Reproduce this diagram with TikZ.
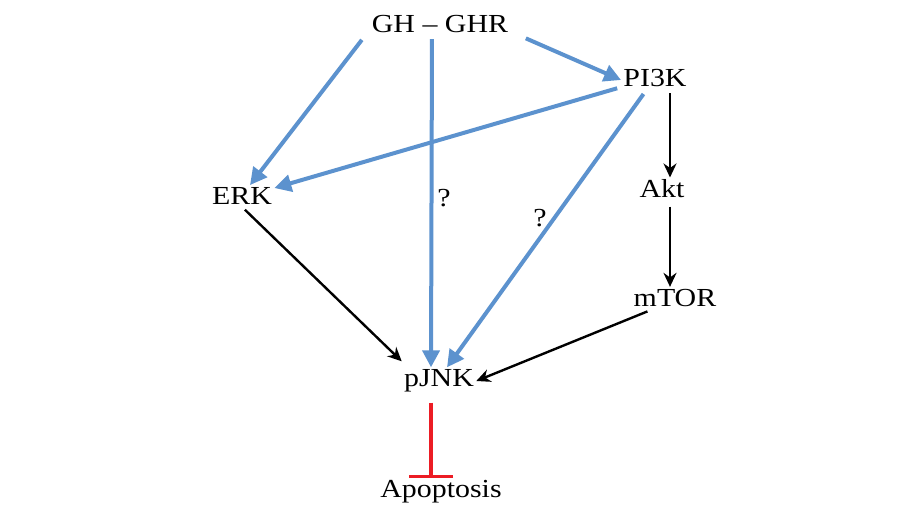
\documentclass[tikz,border=0pt]{standalone}
\usepackage{fontspec}
\setmainfont{Liberation Serif}[FakeStretch=1.15]
\usetikzlibrary{arrows.meta}
\definecolor{pathblue}{RGB}{92,146,206}
\definecolor{inhred}{RGB}{236,28,36}

\begin{document}
\begin{tikzpicture}[x=0.5pt, y=-0.5pt, font=\fontsize{13}{15}\selectfont,
  lbl/.style={inner sep=1pt},
  blueline/.style={pathblue, line width=2pt, -{Triangle[length=8.5pt, width=8.5pt]}},
  blackline/.style={black, line width=1.2pt, -{Stealth[length=7pt, width=6.5pt]}},
  inhibit/.style={inhred, line width=1.6pt, -{Bar[width=22pt, line width=1.6pt]}}]

  \useasboundingbox (0,0) rectangle (910,505);

  % nodes
  \node[lbl] (ghr) at (440,24) {GH -- GHR};
  \node[lbl] (pik) at (655,78) {PI3K};
  \node[lbl] (erk) at (242,196) {ERK};
  \node[lbl] (akt) at (662,189) {Akt};
  \node[lbl] (mtor) at (675,298) {mTOR};
  \node[lbl] (jnk) at (439,381) {pJNK};
  \node[lbl] (apo) at (441,492) {Apoptosis};
  \node[lbl] (q1) at (444,198) {?};
  \node[lbl] (q2) at (540,218) {?};

  % GH-GHR signalling (blue)
  \draw[blueline, shorten <=3pt] ([xshift=-2pt]ghr.south west) -- ([xshift=4pt]erk.north);
  \draw[blueline, shorten <=2pt] ([xshift=-4pt]ghr.south) -- ([xshift=-4pt]jnk.north);
  \draw[blueline, shorten <=4pt] ([xshift=4pt]ghr.south east) -- ([yshift=-1pt]pik.west);
  \draw[blueline, shorten <=2pt] ([yshift=1pt]pik.south west) -- ([yshift=4pt]erk.east);
  \draw[blueline, shorten <=3pt] ([xshift=-4pt]pik.south) -- ([xshift=4pt]jnk.north);

  % PI3K / Akt / mTOR (black)
  \draw[blackline, shorten <=2pt] ([xshift=7.5pt]pik.south) -- ([xshift=7.5pt]pik.south |- akt.north);
  \draw[blackline, shorten <=3pt] ([xshift=7.5pt]pik.south |- akt.south) -- ([xshift=7.5pt]pik.south |- mtor.north);
  \draw[blackline, shorten <=2pt] (erk.south) -- ([yshift=3pt]jnk.north west);
  \draw[blackline, shorten <=3pt] ([xshift=-11pt]mtor.south) -- (jnk.east);

  % inhibition
  \draw[inhibit, shorten <=4pt] ([xshift=-4pt]jnk.south) -- ([xshift=-5pt]apo.north);

\end{tikzpicture}
\end{document}
